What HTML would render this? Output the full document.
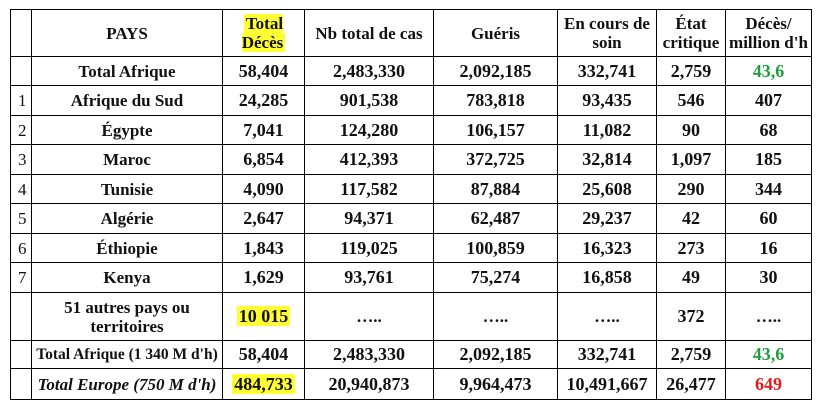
<!DOCTYPE html>
<html><head><meta charset="utf-8"><style>
html,body{margin:0;padding:0;background:#fff;width:818px;height:409px;overflow:hidden}
table{position:absolute;left:10px;top:9px;border-collapse:collapse;table-layout:fixed;font-family:"Liberation Serif",serif;font-weight:bold;font-size:17px;color:#111}
td{border:1px solid #000;text-align:center;vertical-align:middle;padding:0;line-height:19px;white-space:nowrap}
td.n{font-size:18px}
td.i{font-weight:normal;text-align:left;padding-left:7px}
.hl{background:#ffff33;padding:0 2px}
.g{color:#1e9e3e}.r{color:#e01b1b}
.s{font-size:15.5px}
</style></head><body>
<table>
<colgroup><col style="width:21px"><col style="width:191px"><col style="width:82px"><col style="width:129px"><col style="width:124px"><col style="width:99px"><col style="width:69px"><col style="width:86px"></colgroup>
<tr style="height:47px"><td></td><td>PAYS</td><td><span class="hl">Total<br>Décès</span></td><td>Nb total de cas</td><td>Guéris</td><td>En cours de<br>soin</td><td>État<br>critique</td><td>Décès/<br>million d'h</td></tr>
<tr style="height:29px"><td></td><td>Total Afrique</td><td class="n">58,404</td><td class="n">2,483,330</td><td class="n">2,092,185</td><td class="n">332,741</td><td class="n">2,759</td><td class="n g">43,6</td></tr>
<tr style="height:30px"><td class="i">1</td><td>Afrique du Sud</td><td class="n">24,285</td><td class="n">901,538</td><td class="n">783,818</td><td class="n">93,435</td><td class="n">546</td><td class="n">407</td></tr>
<tr style="height:29px"><td class="i">2</td><td>Égypte</td><td class="n">7,041</td><td class="n">124,280</td><td class="n">106,157</td><td class="n">11,082</td><td class="n">90</td><td class="n">68</td></tr>
<tr style="height:30px"><td class="i">3</td><td>Maroc</td><td class="n">6,854</td><td class="n">412,393</td><td class="n">372,725</td><td class="n">32,814</td><td class="n">1,097</td><td class="n">185</td></tr>
<tr style="height:29px"><td class="i">4</td><td>Tunisie</td><td class="n">4,090</td><td class="n">117,582</td><td class="n">87,884</td><td class="n">25,608</td><td class="n">290</td><td class="n">344</td></tr>
<tr style="height:30px"><td class="i">5</td><td>Algérie</td><td class="n">2,647</td><td class="n">94,371</td><td class="n">62,487</td><td class="n">29,237</td><td class="n">42</td><td class="n">60</td></tr>
<tr style="height:29px"><td class="i">6</td><td>Éthiopie</td><td class="n">1,843</td><td class="n">119,025</td><td class="n">100,859</td><td class="n">16,323</td><td class="n">273</td><td class="n">16</td></tr>
<tr style="height:30px"><td class="i">7</td><td>Kenya</td><td class="n">1,629</td><td class="n">93,761</td><td class="n">75,274</td><td class="n">16,858</td><td class="n">49</td><td class="n">30</td></tr>
<tr style="height:48px"><td></td><td>51 autres pays ou<br>territoires</td><td class="n"><span class="hl">10 015</span></td><td>…..</td><td>…..</td><td>…..</td><td class="n">372</td><td>…..</td></tr>
<tr style="height:28px"><td></td><td class="s">Total Afrique (1 340 M d'h)</td><td class="n">58,404</td><td class="n">2,483,330</td><td class="n">2,092,185</td><td class="n">332,741</td><td class="n">2,759</td><td class="n g">43,6</td></tr>
<tr style="height:31px"><td></td><td><i>Total Europe (750 M d'h)</i></td><td class="n"><span class="hl">484,733</span></td><td class="n">20,940,873</td><td class="n">9,964,473</td><td class="n">10,491,667</td><td class="n">26,477</td><td class="n r">649</td></tr>
</table>
</body></html>
